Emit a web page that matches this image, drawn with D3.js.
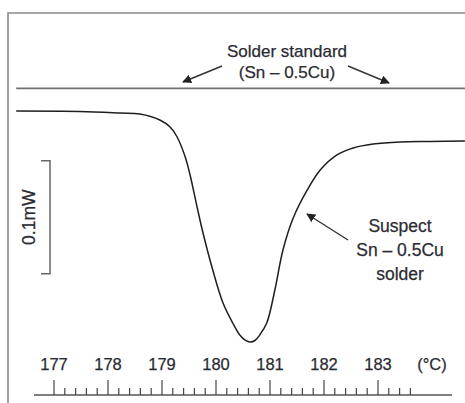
<!DOCTYPE html>
<html>
<head>
<meta charset="utf-8">
<script src="https://cdn.jsdelivr.net/npm/d3@7"></script>
<style>
  body { margin: 0; background: #fff; }
  text { font-family: "Liberation Sans", Arial, sans-serif; fill: #2b2b33; stroke: #2b2b33; stroke-width: 0.25px; }
</style>
</head>
<body>
<div id="chart"></div>
<script>
// DSC trace of suspect solder, temperature (deg C) vs heat flow (mW, relative)
var temps = [176.30, 177.48, 178.22, 178.59, 178.96, 179.15, 179.28, 179.43, 179.52,
             179.65, 179.76, 179.94, 180.13, 180.31, 180.44, 180.54, 180.63, 180.72,
             180.81, 180.94, 181.09, 181.24, 181.43, 181.69, 181.93, 182.24, 182.54,
             182.91, 183.41, 183.96, 184.61];
var heatFlow = [0, -0.0004, -0.0018, -0.0027, -0.0080, -0.0142, -0.0230, -0.0407, -0.0566,
                -0.0850, -0.1080, -0.1407, -0.1699, -0.1876, -0.1982, -0.2027, -0.2044, -0.2031,
                -0.1982, -0.1876, -0.1584, -0.1230, -0.0947, -0.0699, -0.0522, -0.0389, -0.0327,
                -0.0292, -0.0274, -0.0270, -0.0265];
var standardLevel = 0.02;           // flat trace of the standard
var standardRange = [176.30, 184.61];
var scaleBar = [-0.044, -0.144];    // 0.1 mW bar
var tickLabels = [177, 178, 179, 180, 181, 182, 183];
var minorTicks = d3.range(0, 34).map(function(i) { return 177 + i * 0.2; });
var axisRange = [176.63, 184.37];

var width = 465, height = 403;

var svg = d3.select("#chart").append("svg")
    .attr("width", width)
    .attr("height", height);

var x = d3.scaleLinear().domain([177, 183]).range([54, 378]);
var y = d3.scaleLinear().domain([-0.21, 0.02]).range([348.3, 88.4]);

svg.append("defs").append("marker")
    .attr("id", "arrow")
    .attr("viewBox", "0 0 10 10")
    .attr("refX", 9).attr("refY", 5)
    .attr("markerWidth", 9).attr("markerHeight", 9)
    .attr("markerUnits", "userSpaceOnUse")
    .attr("orient", "auto")
    .append("path")
    .attr("d", "M0,0 L10,5 L0,10 Z")
    .style("fill", "#222");

// frame
svg.append("path")
    .attr("d", "M8,403 L8,13 L465,13")
    .style("fill", "none")
    .style("stroke", "#8a8a8a")
    .style("stroke-width", 1.6);

// standard trace
svg.append("line")
    .attr("x1", x(standardRange[0])).attr("x2", x(standardRange[1]))
    .attr("y1", y(standardLevel)).attr("y2", y(standardLevel))
    .style("stroke", "#707070")
    .style("stroke-width", 1.8);

// suspect trace
var data = temps.map(function(t, i) { return [t, heatFlow[i]]; });
var line = d3.line()
    .x(function(d) { return x(d[0]); })
    .y(function(d) { return y(d[1]); })
    .curve(d3.curveCatmullRom.alpha(0.5));

svg.append("path")
    .datum(data)
    .attr("d", line)
    .style("fill", "none")
    .style("stroke", "#1e1e1e")
    .style("stroke-width", 1.5);

// 0.1 mW scale bar
var barX = 50;
svg.append("path")
    .attr("d", "M41," + y(scaleBar[0]) + " L" + barX + "," + y(scaleBar[0]) +
               " L" + barX + "," + y(scaleBar[1]) + " L41," + y(scaleBar[1]))
    .style("fill", "none")
    .style("stroke", "#666")
    .style("stroke-width", 1.5);

svg.append("text")
    .attr("transform", "translate(35," + y((scaleBar[0] + scaleBar[1]) / 2) + ") rotate(-90)")
    .attr("text-anchor", "middle")
    .style("font-size", "17.5px")
    .text("0.1mW");

// temperature axis
var axisY = 395;
svg.append("line")
    .attr("x1", x(axisRange[0])).attr("x2", x(axisRange[1]))
    .attr("y1", axisY).attr("y2", axisY)
    .style("stroke", "#555")
    .style("stroke-width", 1.5);

svg.selectAll(".minor")
    .data(minorTicks)
    .enter()
    .append("line")
    .attr("class", "minor")
    .attr("x1", function(d) { return x(d); })
    .attr("x2", function(d) { return x(d); })
    .attr("y1", axisY)
    .attr("y2", function(d) {
        return Math.abs(d - Math.round(d)) < 0.01 ? axisY - 15 : axisY - 7;
    })
    .style("stroke", "#444")
    .style("stroke-width", 1.2);

svg.selectAll(".tickLabel")
    .data(tickLabels)
    .enter()
    .append("text")
    .attr("class", "tickLabel")
    .attr("x", function(d) { return x(d); })
    .attr("y", 370)
    .attr("text-anchor", "middle")
    .style("font-size", "16.5px")
    .text(function(d) { return d; });

svg.append("text")
    .attr("x", 432).attr("y", 370)
    .attr("text-anchor", "middle")
    .style("font-size", "16.5px")
    .text("(°C)");

// annotations
svg.append("text")
    .attr("x", 287).attr("y", 57)
    .attr("text-anchor", "middle")
    .style("font-size", "17px")
    .text("Solder standard");
svg.append("text")
    .attr("x", 287).attr("y", 78)
    .attr("text-anchor", "middle")
    .style("font-size", "17px")
    .text("(Sn – 0.5Cu)");

var arrows = [
    [222, 66, 183, 82],
    [348, 66, 389, 83],
    [348, 240, 307, 214]
];
svg.selectAll(".arrow")
    .data(arrows)
    .enter()
    .append("line")
    .attr("class", "arrow")
    .attr("x1", function(d) { return d[0]; })
    .attr("y1", function(d) { return d[1]; })
    .attr("x2", function(d) { return d[2]; })
    .attr("y2", function(d) { return d[3]; })
    .attr("marker-end", "url(#arrow)")
    .style("stroke", "#333")
    .style("stroke-width", 1.4);

var suspectLines = ["Suspect", "Sn – 0.5Cu", "solder"];
svg.selectAll(".suspect")
    .data(suspectLines)
    .enter()
    .append("text")
    .attr("class", "suspect")
    .attr("x", 400)
    .attr("y", function(d, i) { return 232 + i * 24; })
    .attr("text-anchor", "middle")
    .style("font-size", "17.5px")
    .text(function(d) { return d; });
</script>
</body>
</html>
